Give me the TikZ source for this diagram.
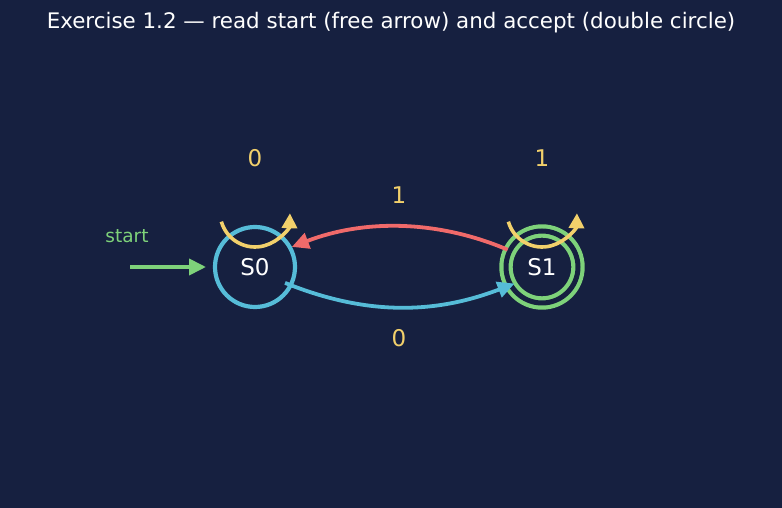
\documentclass[tikz,border=0pt]{standalone}
\usepackage{fontspec}
\setmainfont{DejaVu Sans}
\usetikzlibrary{arrows.meta}
\definecolor{bg}{HTML}{162040}
\definecolor{cy}{HTML}{56BCD8}
\definecolor{gr}{HTML}{7ED27A}
\definecolor{rd}{HTML}{F06A6A}
\definecolor{yl}{HTML}{F2D06B}
\tikzset{
  state/.style={circle, draw=cy, line width=4.2pt, minimum size=80pt, inner sep=0pt, outer sep=0pt, text=white, font=\fontsize{23}{26}\selectfont},
  accept/.style={circle, draw=gr, line width=4.2pt, double=bg, double distance=5pt, minimum size=72pt, inner sep=0pt, outer sep=0pt, text=white, font=\fontsize{23}{26}\selectfont},
  tip/.style={-{Triangle[length=17pt,width=16pt]}},
  lbl/.style={text=yl, font=\fontsize{23}{26}\selectfont},
  edge/.style={line width=3.8pt, tip},
}
\begin{document}
\begin{tikzpicture}[x=1pt,y=1pt]
\fill[bg] (0,0) rectangle (782,508);
\useasboundingbox (0,0) rectangle (782,508);
\node[text=white, font=\fontsize{21.4}{24}\selectfont] (title) at (391,485) {Exercise 1.2 — read start (free arrow) and accept (double circle)};
\node[state] (s0) at (255,241) {S0};
\node[accept] (s1) at (542,241) {S1};
% start arrow
\coordinate (st) at (130,241);
\node[text=gr, font=\fontsize{18.5}{21}\selectfont] (stl) at (127,272) {start};
\draw[edge, draw=gr, fill=gr, tip, shorten >=9pt] (st) -- (s0);
% self loops
\coordinate (l0) at (255,296);
\coordinate (l1) at (542,296);
\draw[line width=3.6pt, yl, -{Triangle[length=15pt,width=15pt]}] ([shift={(196:35)}]l0) arc[start angle=196, end angle=358, radius=35];
\draw[line width=3.6pt, yl, -{Triangle[length=15pt,width=15pt]}] ([shift={(196:35)}]l1) arc[start angle=196, end angle=358, radius=35];
\node[lbl] (t0) at (255,350) {0};
\node[lbl] (t1) at (542,350) {1};
% transitions
\draw[edge, rd, shorten <=2.5pt, shorten >=2pt] (s1.153) to[out=157, in=21, looseness=0.92] (s0.29);
\node[lbl] (a1) at (399,313) {1};
\draw[edge, cy, shorten <=-6pt, shorten >=-4pt] (s0.-27) to[out=-22, in=201, looseness=0.95] (s1.210);
\node[lbl] (a0) at (399,170) {0};
\end{tikzpicture}
\end{document}
